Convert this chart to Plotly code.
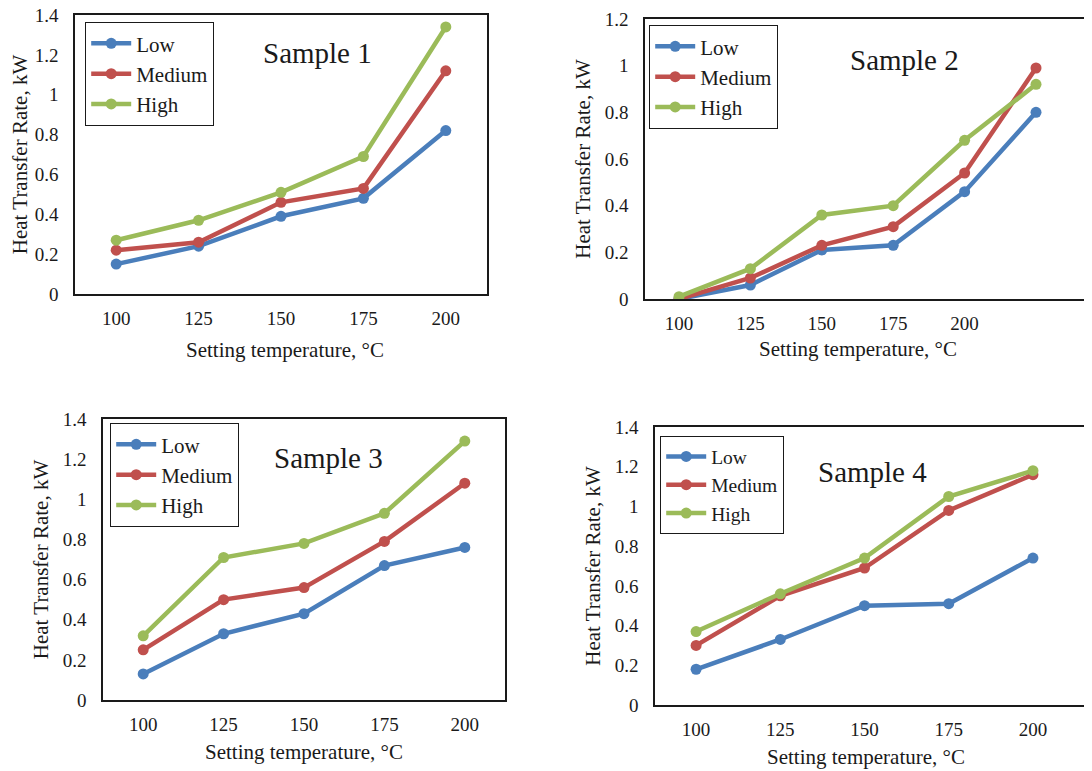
import plotly.graph_objects as go

# ---------------- data ----------------
temps = [100, 125, 150, 175, 200]
temps_s2 = [100, 125, 150, 175, 200, 225]   # sample 2 has a sixth, unlabeled point
tick_labels = ["100", "125", "150", "175", "200"]
series_names = ["Low", "Medium", "High"]

s1_low = [0.15, 0.24, 0.39, 0.48, 0.82]
s1_med = [0.22, 0.26, 0.46, 0.53, 1.12]
s1_high = [0.27, 0.37, 0.51, 0.69, 1.34]

s2_low = [0.00, 0.06, 0.21, 0.23, 0.46, 0.80]
s2_med = [0.00, 0.09, 0.23, 0.31, 0.54, 0.99]
s2_high = [0.01, 0.13, 0.36, 0.40, 0.68, 0.92]

s3_low = [0.13, 0.33, 0.43, 0.67, 0.76]
s3_med = [0.25, 0.50, 0.56, 0.79, 1.08]
s3_high = [0.32, 0.71, 0.78, 0.93, 1.29]

s4_low = [0.18, 0.33, 0.50, 0.51, 0.74]
s4_med = [0.30, 0.55, 0.69, 0.98, 1.16]
s4_high = [0.37, 0.56, 0.74, 1.05, 1.18]

y_ticks_14 = [0, 0.2, 0.4, 0.6, 0.8, 1, 1.2, 1.4]
y_ticks_12 = [0, 0.2, 0.4, 0.6, 0.8, 1, 1.2]

x_title = "Setting temperature, °C"
y_title = "Heat Transfer Rate, kW"

colors = ["#4A7EBB", "#C0504D", "#9BBB59"]
FONT = "Liberation Serif"
TXT = "#1a1a1a"

W, H = 1092, 771
OFF = 8  # page body margin offset

panels = [
    dict(x=temps, ys=[s1_low, s1_med, s1_high], box=(75, 487, 15, 294), xr=[87.5, 212.5],
         yt=y_ticks_14, ymax=1.4, mirror_y=True, legend=(85, 22), lfs=21,
         title="Sample 1", tpos=(317, 53), xtpos=(285, 350)),
    dict(x=temps_s2, ys=[s2_low, s2_med, s2_high], box=(645, 1100, 19, 299), xr=[88.1, 247.4],
         yt=y_ticks_12, ymax=1.2, mirror_y=False, legend=(649, 25), lfs=21,
         title="Sample 2", tpos=(904, 60), xtpos=(858, 349)),
    dict(x=temps, ys=[s3_low, s3_med, s3_high], box=(103, 505, 419, 700), xr=[87.5, 212.5],
         yt=y_ticks_14, ymax=1.4, mirror_y=True, legend=(110, 423), lfs=21,
         title="Sample 3", tpos=(328, 458), xtpos=(304, 752)),
    dict(x=temps, ys=[s4_low, s4_med, s4_high], box=(655, 1100, 427, 705), xr=[87.8, 219.9],
         yt=y_ticks_14, ymax=1.4, mirror_y=False, legend=(660, 436), lfs=19.5,
         title="Sample 4", tpos=(872, 472), xtpos=(866, 757)),
]

fig = go.Figure()
layout = dict(
    width=W, height=H, margin=dict(l=0, r=0, t=0, b=0, autoexpand=False),
    paper_bgcolor="white", plot_bgcolor="white",
    font=dict(family=FONT, color=TXT, size=19),
    annotations=[],
)

for i, p in enumerate(panels):
    k = "" if i == 0 else str(i + 1)
    lg = "legend" if i == 0 else f"legend{i + 1}"
    for name, ys, c in zip(series_names, p["ys"], colors):
        fig.add_trace(go.Scatter(
            x=p["x"], y=ys, name=name, mode="lines+markers",
            line=dict(color=c, width=4.5), marker=dict(color=c, size=11),
            xaxis=f"x{k}", yaxis=f"y{k}", legend=lg,
        ))
    l, r, t, b = [v - OFF for v in p["box"]]
    layout[f"xaxis{k}"] = dict(
        domain=[l / W, min(r / W, 1.0)], anchor=f"y{k}", range=p["xr"],
        tickvals=temps, ticktext=tick_labels, showgrid=False, zeroline=False,
        showline=True, mirror=True, linecolor=TXT, linewidth=1.5,
        ticks="", ticklabelstandoff=6, ticklabeloverflow="allow",
        tickfont=dict(size=19, family=FONT, color=TXT),
    )
    layout[f"yaxis{k}"] = dict(
        domain=[1 - b / H, 1 - t / H], anchor=f"x{k}", range=[0, p["ymax"]],
        tickvals=p["yt"], showgrid=False, zeroline=False,
        showline=True, mirror=p["mirror_y"], linecolor=TXT, linewidth=1.5,
        ticks="", ticklabelstandoff=11, ticklabeloverflow="allow",
        tickfont=dict(size=19, family=FONT, color=TXT),
        title=dict(text=y_title, font=dict(size=21, family=FONT, color=TXT), standoff=8),
    )
    lx, ly = p["legend"]
    layout[lg] = dict(
        x=(lx - OFF) / W, y=1 - (ly - OFF) / H, xanchor="left", yanchor="top",
        bgcolor="white", bordercolor=TXT, borderwidth=1.2,
        font=dict(size=p["lfs"], family=FONT, color=TXT),
        itemwidth=40,
    )
    tx, ty = p["tpos"]
    layout["annotations"].append(dict(
        text=p["title"], x=(tx - OFF) / W, y=1 - (ty - OFF) / H, xref="paper", yref="paper",
        xanchor="center", yanchor="middle", showarrow=False,
        font=dict(size=29, family=FONT, color=TXT),
    ))
    ax, ay = p["xtpos"]
    layout["annotations"].append(dict(
        text=x_title, x=(ax - OFF) / W, y=1 - (ay - OFF) / H, xref="paper", yref="paper",
        xanchor="center", yanchor="middle", showarrow=False,
        font=dict(size=21, family=FONT, color=TXT),
    ))

fig.update_layout(**layout)
fig.write_html("out.html")
